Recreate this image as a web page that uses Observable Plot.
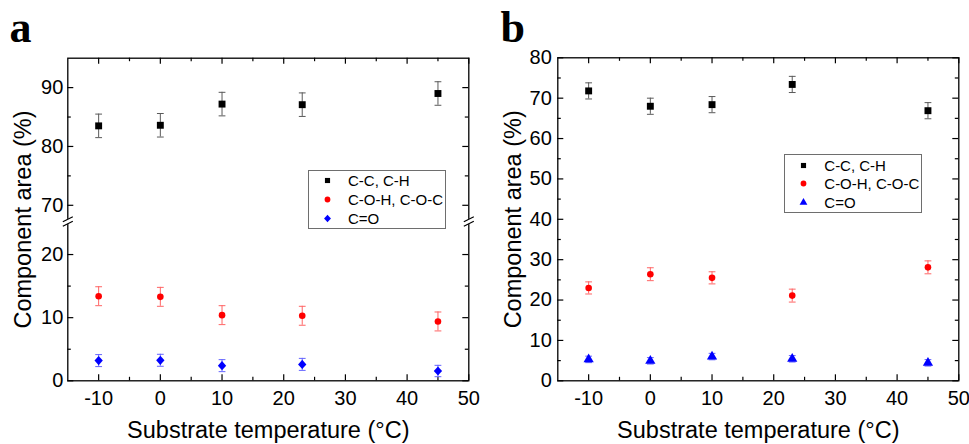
<!DOCTYPE html>
<html><head><meta charset="utf-8">
<script src="https://cdn.jsdelivr.net/npm/d3@7"></script>
<script src="https://cdn.jsdelivr.net/npm/@observablehq/plot@0.6"></script>
<style>
body{margin:0;background:#fff;}
#wrap{position:relative;width:969px;height:444px;overflow:hidden;}
figure{margin:0;}
.lgd{position:absolute;box-sizing:border-box;border:1.2px solid #6e6e6e;background:#fff;
  font-family:"Liberation Sans",Arial,sans-serif;font-size:15px;color:#000;padding:0.6px 0 0 10.5px;}
.lgd .row{display:flex;align-items:center;height:18.7px;white-space:nowrap;}
.lgd svg{margin-right:13.5px;overflow:visible;}
</style></head><body><div id="wrap"></div>
<script>
const temps = [-10, 0, 10, 23, 45];
const seriesNames = ["C-C, C-H", "C-O-H, C-O-C", "C=O"];
const markerColors = ["#000000", "#ff0000", "#0000ff"];
const barColors = ["#5a5a5a", "#ff6464", "#6464ff"];
const xTicks = [-10, 0, 10, 20, 30, 40, 50];
const xMinor = [-5, 5, 15, 25, 35, 45];
const xLabel = "Substrate temperature (°C)";
const yLabel = "Component area (%)";

// panel a
const aCC = [83.5, 83.6, 87.2, 87.1, 89.0];
const aCCerr = [2.0, 2.0, 2.0, 2.0, 2.0];
const aCOH = [13.4, 13.3, 10.4, 10.3, 9.4];
const aCOHerr = [1.5, 1.5, 1.5, 1.5, 1.5];
const aCO = [3.2, 3.25, 2.4, 2.6, 1.55];
const aCOerr = [0.95, 0.95, 0.95, 0.95, 0.9];
const aYTicks = [0, 10, 20, 70, 80, 90];
const aYMinor = [5, 15, 75, 85];
const aBreak = [25, 67.5];
const aYMax = 95;

// panel b
const bCC = [71.8, 68.0, 68.4, 73.4, 66.9];
const bCCerr = [2.0, 2.0, 2.0, 2.0, 2.0];
const bCOH = [23.0, 26.4, 25.5, 21.1, 28.1];
const bCOHerr = [1.5, 1.6, 1.5, 1.6, 1.6];
const bCO = [5.3, 4.95, 6.0, 5.45, 4.45];
const bCOerr = [0.8, 0.8, 0.8, 0.8, 0.8];
const bYTicks = [0, 10, 20, 30, 40, 50, 60, 70, 80];
const bYMinor = [5, 15, 25, 35, 45, 55, 65, 75];
const bYMax = 80;

// broken-axis mapping for panel a: lower segment kept, upper segment compressed
const upperRatio = 0.932, gapUnits = 0.47;
function brokenY(v) {
  const [lo, hi] = aBreak;
  if (v <= lo) return v;
  if (v >= hi) return lo + gapUnits + (v - hi) * upperRatio;
  return lo + (v - lo) / (hi - lo) * gapUnits;
}

function rowsFor(valsList, errsList) {
  const out = [];
  valsList.forEach((vals, s) => vals.forEach((v, i) =>
    out.push({series: seriesNames[s], s, t: temps[i], v, e: errsList[s][i]})));
  return out;
}

const cap = {draw(ctx) { ctx.moveTo(-3.4, 0); ctx.lineTo(3.4, 0); }};
const breakCover = {draw(ctx) { ctx.rect(-2.2, -2.6, 4.4, 5.2); }};
const breakSlash = {draw(ctx) { ctx.moveTo(-5, 0.2); ctx.lineTo(5, -4.8); ctx.moveTo(-5, 4.8); ctx.lineTo(5, -0.2); }};
// square-like diamond (rotated square) scaled by size
const rhomb = {draw(ctx, size) { const h = Math.sqrt(size / 2); ctx.moveTo(0, -h * 1.05); ctx.lineTo(h * 0.95, 0); ctx.lineTo(0, h * 1.05); ctx.lineTo(-h * 0.95, 0); ctx.closePath(); }};
const symbolMap = {square: d3.symbolSquare, circle: d3.symbolCircle, diamond: rhomb, triangle: d3.symbolTriangle};

function makePanel(o) {
  const H = 444, iw = o.W - o.ml - o.mr, ih = H - o.mt - o.mb;
  const Y = o.ymap;
  const marks = [];
  marks.push(Plot.frame({stroke: "#000", strokeWidth: 1.3}));
  if (o.breakVals) {
    const bx = [-15, 50];
    const by = Y((o.breakVals[0] + o.breakVals[1]) / 2);
    marks.push(Plot.dot(bx, {x: d => d, y: () => by, symbol: breakCover, fill: "white", stroke: "none"}));
    marks.push(Plot.dot(bx, {x: d => d, y: () => by, symbol: breakSlash, fill: "none", stroke: "#000", strokeWidth: 1.2}));
  }
  // inward ticks on all four sides
  marks.push(Plot.ruleX(xTicks, {x: d => d, insetTop: ih - 6, strokeWidth: 1.2}));
  marks.push(Plot.ruleX(xTicks, {x: d => d, insetBottom: ih - 6, strokeWidth: 1.2}));
  marks.push(Plot.ruleX(xMinor, {x: d => d, insetTop: ih - 3.5, strokeWidth: 1.2}));
  marks.push(Plot.ruleX(xMinor, {x: d => d, insetBottom: ih - 3.5, strokeWidth: 1.2}));
  marks.push(Plot.ruleY(o.yTicks, {y: Y, insetRight: iw - 6, strokeWidth: 1.2}));
  marks.push(Plot.ruleY(o.yTicks, {y: Y, insetLeft: iw - 6, strokeWidth: 1.2}));
  marks.push(Plot.ruleY(o.yMinor, {y: Y, insetRight: iw - 3.5, strokeWidth: 1.2}));
  marks.push(Plot.ruleY(o.yMinor, {y: Y, insetLeft: iw - 3.5, strokeWidth: 1.2}));
  marks.push(Plot.axisX({ticks: xTicks, tickSize: 0, tickPadding: 9.5, tickFormat: d => String(d), label: null, fontSize: 20}));
  marks.push(Plot.text(o.yTicks, {y: Y, text: d => String(d), frameAnchor: "left", textAnchor: "end", lineAnchor: "middle", dx: -o.yPad, fontSize: 20}));
  marks.push(Plot.text([xLabel], {frameAnchor: "bottom", text: d => d, dy: 56.7, textAnchor: "middle", lineAnchor: "bottom", fontSize: 23.5}));
  marks.push(Plot.text([yLabel], {frameAnchor: "left", text: d => d, rotate: -90, dx: -44.3, textAnchor: "middle", lineAnchor: "middle", fontSize: 23.5}));
  marks.push(Plot.text([o.letter], {frameAnchor: "top-left", text: d => d, dx: o.ldx, dy: o.ldy, textAnchor: "start", lineAnchor: "bottom", fontSize: 44, fontWeight: "bold", fontFamily: "Liberation Serif, Times New Roman, serif"}));
  seriesNames.forEach((name, s) => {
    const d = o.rows.filter(r => r.s === s);
    marks.push(Plot.ruleX(d, {x: "t", y1: r => Y(r.v - r.e), y2: r => Y(r.v + r.e), stroke: barColors[s], strokeWidth: 1}));
    marks.push(Plot.dot(d, {x: "t", y: r => Y(r.v + r.e), symbol: cap, stroke: barColors[s], strokeWidth: 1}));
    marks.push(Plot.dot(d, {x: "t", y: r => Y(r.v - r.e), symbol: cap, stroke: barColors[s], strokeWidth: 1}));
  });
  seriesNames.forEach((name, s) => {
    const d = o.rows.filter(r => r.s === s);
    marks.push(Plot.dot(d, {x: "t", y: r => Y(r.v), symbol: symbolMap[o.symbols[s]], fill: "series", r: o.rs[s]}));
  });
  const svg = Plot.plot({
    width: o.W, height: H,
    marginLeft: o.ml, marginRight: o.mr, marginTop: o.mt, marginBottom: o.mb,
    style: {fontFamily: "Liberation Sans, Arial, sans-serif", fontSize: "20px", color: "#000", background: "transparent", overflow: "visible"},
    x: {domain: [-15, 50]},
    y: {domain: [0, Y(o.yMax)], axis: null},
    color: {domain: seriesNames, range: markerColors},
    marks
  });
  Object.assign(svg.style, {position: "absolute", left: o.left + "px", top: "0px"});
  const wrap = document.getElementById("wrap");
  wrap.appendChild(svg);
  // legend box
  const lg = document.createElement("div");
  lg.className = "lgd";
  Object.assign(lg.style, {left: (o.left + o.lg[0]) + "px", top: o.lg[1] + "px", width: o.lg[2] + "px", height: o.lg[3] + "px"});
  seriesNames.forEach((name, s) => {
    const row = document.createElement("div");
    row.className = "row";
    const sz = Math.PI * 2.9 * 2.9;
    const path = d3.symbol(symbolMap[o.symbols[s]], sz)();
    row.innerHTML = `<svg width="15" height="15" viewBox="-7.5 -7.5 15 15"><path d="${path}" fill="${markerColors[s]}"/></svg><span></span>`;
    row.querySelector("span").textContent = name;
    lg.appendChild(row);
  });
  wrap.appendChild(lg);
}

makePanel({
  W: 480, left: 0, ml: 67.3, mr: 11.7, mt: 57.7, mb: 63.7,
  ymap: brokenY, yMax: aYMax,
  yTicks: aYTicks, yMinor: aYMinor, yPad: 4.5, breakVals: aBreak,
  rows: rowsFor([aCC, aCOH, aCO], [aCCerr, aCOHerr, aCOerr]),
  symbols: ["square", "circle", "diamond"], rs: [3.9, 3.3, 3.5],
  letter: "a", ldx: -58.3, ldy: -16.7,
  lg: [308, 170, 138, 58.7]
});
makePanel({
  W: 489, left: 480, ml: 77.3, mr: 10.7, mt: 57.3, mb: 63.7,
  ymap: v => v, yMax: bYMax,
  yTicks: bYTicks, yMinor: bYMinor, yPad: 6,
  rows: rowsFor([bCC, bCOH, bCO], [bCCerr, bCOHerr, bCOerr]),
  symbols: ["square", "circle", "triangle"], rs: [3.9, 3.3, 3.8],
  letter: "b", ldx: -57.3, ldy: -15.6,
  lg: [304.3, 154.3, 138, 58.4]
});
</script></body></html>
